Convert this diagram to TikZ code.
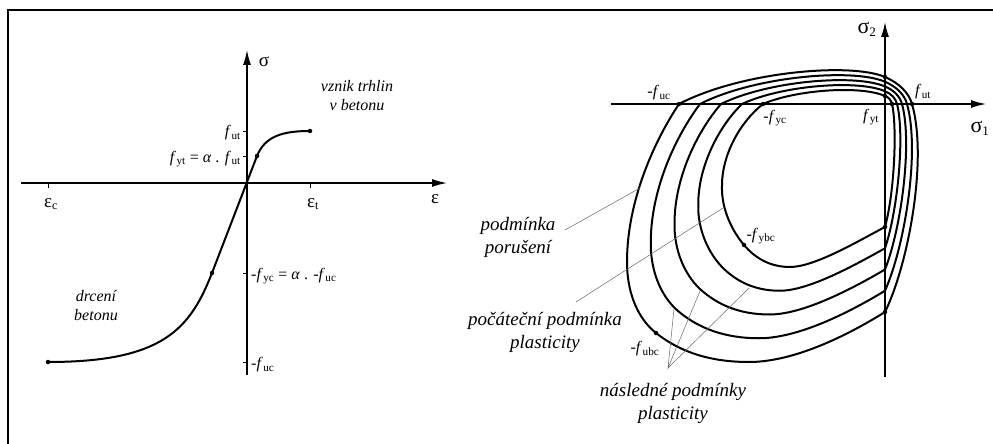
\documentclass[tikz,border=0pt]{standalone}
\usepackage{fontspec}
\setmainfont{Liberation Serif}
\usetikzlibrary{arrows.meta,calc}
\newcommand{\ffs}[1]{\textit{f}\kern0.03em\textsubscript{#1}}
\begin{document}
\begin{tikzpicture}[x=1pt,y=-1pt,
  axis/.style={line width=1.4pt,-{Latex[length=15pt,width=8pt]}},
  tick/.style={line width=1pt},
  curve/.style={line width=2pt,line join=round},
  lead/.style={line width=0.5pt,black!60},
  dot/.style={circle,fill,inner sep=0pt,minimum size=4.5pt},
  lbl/.style={font=\fontsize{16}{19}\selectfont,inner sep=0pt},
  greekl/.style={font=\fontsize{19}{21}\selectfont,inner sep=0pt},
  greekr/.style={font=\fontsize{22}{24}\selectfont,inner sep=0pt},
  txtl/.style={font=\fontsize{16}{19}\selectfont\itshape,align=center,inner sep=0pt},
  txtr/.style={font=\fontsize{19}{23}\selectfont\itshape,align=center,inner sep=0pt},
  ]
\useasboundingbox (0,0) rectangle (993,444);
% frame
\draw[line width=2pt] (8.3,460) -- (8.3,10) -- (1010,10);

% ---------------- left diagram ----------------
\coordinate (eL) at (21,183);
\coordinate (eR) at (447,183);
\coordinate (sB) at (247,375);
\coordinate (sT) at (247,50);
\draw[axis] (eL) -- (eR);
\draw[axis] (sB) -- (sT);
\node[greekl] (sig) at (264,62) {σ};
\node[greekl] (eps) at (435,199) {ε};
% ticks
\foreach \yy/\nm in {131/a,156/b,273/c,362/d}{
  \coordinate (tk\nm) at (243,\yy);
  \draw[tick] (tk\nm) -- ++(4.5,0);
}
\coordinate (tke) at (48,183);
\coordinate (tkf) at (310,183);
\draw[tick] (tke) -- ++(0,5);
\draw[tick] (tkf) -- ++(0,5);
\node[greekl] (ec) at (51,204) {ε\textsubscript{\fontsize{12}{12}\selectfont c}};
\node[greekl] (et) at (313,204) {ε\textsubscript{\fontsize{12}{12}\selectfont t}};
\node[lbl,anchor=east] (fut) at (241,133) {\ffs{ut}};
\node[lbl,anchor=east] (fyt) at (241,159) {\ffs{yt} = \textit{α} . \ffs{ut}};
\node[lbl,anchor=west] (fyc) at (251,276) {-\ffs{yc} = \textit{α} . -\ffs{uc}};
\node[lbl,anchor=west] (fuc) at (251,365) {-\ffs{uc}};
\node[txtl] (vz) at (357,96) {vznik trhlin\\v betonu};
\node[txtl] (dr) at (96,306) {drcení\\betonu};
% curve
\coordinate (cA) at (48,362);
\coordinate (cB) at (212,273);
\coordinate (cC) at (257,156);
\coordinate (cD) at (310,131);
\draw[curve] (cA) .. controls (163,362) and (190,329) .. (cB) -- (cC)
  .. controls (265,136) and (283,131) .. (cD);
\foreach \p in {cA,cB,cC,cD}{\node[dot] (d\p) at (\p) {};}

% ---------------- right diagram ----------------
\coordinate (s1L) at (611,104);
\coordinate (s1R) at (986,104);
\coordinate (s2B) at (885,377);
\coordinate (s2T) at (885,22);
\draw[axis] (s1L) -- (s1R);
\draw[axis] (s2B) -- (s2T);
\node[greekr] (sg2) at (867,29) {σ\textsubscript{\fontsize{13}{13}\selectfont 2}};
\node[greekr] (sg1) at (980,128) {σ\textsubscript{\fontsize{13}{13}\selectfont 1}};

% outer (failure) surface: end points and control points
\coordinate (o0) at (679,104);
\coordinate (o1) at (740,72);   \coordinate (o2) at (850,62);   \coordinate (o3) at (885,77);
\coordinate (o4) at (899,83);   \coordinate (o5) at (909,93);   \coordinate (o6) at (912,104);
\coordinate (o7) at (928,160);  \coordinate (o8) at (908,265);  \coordinate (o9) at (885,312);
\coordinate (o10) at (840,340); \coordinate (o11) at (790,362); \coordinate (o12) at (749,362);
\coordinate (o13) at (710,362); \coordinate (o14) at (680,352); \coordinate (o15) at (656,333);
\coordinate (o16) at (636,317); \coordinate (o17) at (627,290); \coordinate (o18) at (627,262);
\coordinate (o19) at (627,200); \coordinate (o20) at (655,140);
% inner (initial yield) surface
\coordinate (i0) at (763,104);
\coordinate (i1) at (795,90);   \coordinate (i2) at (860,85);   \coordinate (i3) at (885,96);
\coordinate (i4) at (889,97.5); \coordinate (i5) at (891,100);  \coordinate (i6) at (892,104);
\coordinate (i7) at (897,125);  \coordinate (i8) at (895,190);  \coordinate (i9) at (885,227);
\coordinate (i10) at (860,240); \coordinate (i11) at (815,267); \coordinate (i12) at (790,267);
\coordinate (i13) at (770,267); \coordinate (i14) at (755,258); \coordinate (i15) at (744,245);
\coordinate (i16) at (733,232); \coordinate (i17) at (721,210); \coordinate (i18) at (722,185);
\coordinate (i19) at (722,155); \coordinate (i20) at (740,122);

\foreach \t in {0,0.25,0.5,0.75,1}{
  \draw[curve] ($(o0)!\t!(i0)$)
    .. controls ($(o1)!\t!(i1)$) and ($(o2)!\t!(i2)$) .. ($(o3)!\t!(i3)$)
    .. controls ($(o4)!\t!(i4)$) and ($(o5)!\t!(i5)$) .. ($(o6)!\t!(i6)$)
    .. controls ($(o7)!\t!(i7)$) and ($(o8)!\t!(i8)$) .. ($(o9)!\t!(i9)$)
    .. controls ($(o10)!\t!(i10)$) and ($(o11)!\t!(i11)$) .. ($(o12)!\t!(i12)$)
    .. controls ($(o13)!\t!(i13)$) and ($(o14)!\t!(i14)$) .. ($(o15)!\t!(i15)$)
    .. controls ($(o16)!\t!(i16)$) and ($(o17)!\t!(i17)$) .. ($(o18)!\t!(i18)$)
    .. controls ($(o19)!\t!(i19)$) and ($(o20)!\t!(i20)$) .. cycle;
}
\foreach \p in {o0,o3,o6,o9,o15,i0,i3,i6,i9,i15}{\node[dot] (d\p) at (\p) {};}

\node[lbl] (rfuc) at (659,93) {-\ffs{uc}};
\node[lbl] (rfut) at (923,92) {\ffs{ut}};
\node[lbl] (rfyc) at (775,118) {-\ffs{yc}};
\node[lbl] (rfyt) at (871,117) {\ffs{yt}};
\node[lbl] (rfybc) at (761,236) {-\ffs{ybc}};
\node[lbl] (rfubc) at (645,349) {-\ffs{ubc}};

% leaders
\coordinate (l1a) at (565,230);
\coordinate (l1b) at (640,188);
\coordinate (l2a) at (576,302);
\coordinate (l2b) at (723,208);
\coordinate (l3a) at (668,368);
\coordinate (l3b) at (674,309);
\coordinate (l3c) at (700,291);
\coordinate (l3d) at (749,288);
\draw[lead] (l1a) -- (l1b);
\draw[lead] (l2a) -- (l2b);
\draw[lead] (l3b) -- (l3a) -- (l3c);
\draw[lead] (l3a) -- (l3d);

\node[txtr] (pp) at (518,237) {podmínka\\porušení};
\node[txtr] (pc) at (545,332) {počáteční podmínka\\plasticity};
\node[txtr] (ns) at (673,403) {následné podmínky\\plasticity};
\end{tikzpicture}
\end{document}
